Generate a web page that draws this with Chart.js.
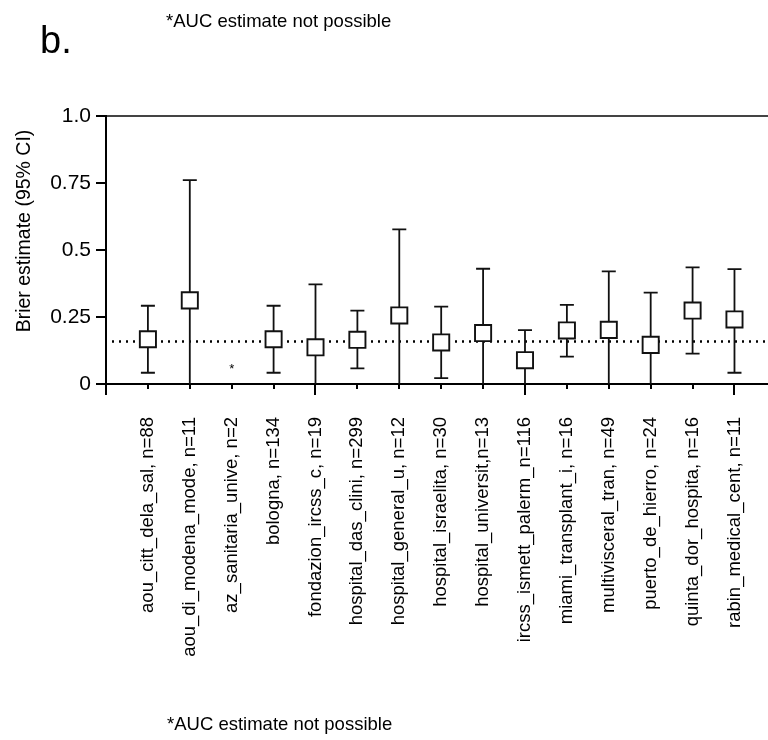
<!DOCTYPE html>
<html>
<head>
<meta charset="utf-8">
<script src="https://cdn.jsdelivr.net/npm/chart.js@4/dist/chart.umd.min.js"></script>
<style>
  html, body { margin: 0; padding: 0; background: #fff; overflow: hidden; }
  #wrap { position: relative; width: 768px; height: 740px; }
</style>
</head>
<body>
<div id="wrap"><canvas id="c" width="768" height="740"></canvas></div>
<script>
// Centres (with n) along the x axis
const centres = [
  'aou_citt_dela_sal, n=88',
  'aou_di_modena_mode, n=11',
  'az_sanitaria_unive, n=2',
  'bologna, n=134',
  'fondazion_ircss_c, n=19',
  'hospital_das_clini, n=299',
  'hospital_general_u, n=12',
  'hospital_israelita, n=30',
  'hospital_universit,n=13',
  'ircss_ismett_palerm_n=116',
  'miami_transplant_i, n=16',
  'multivisceral_tran, n=49',
  'puerto_de_hierro, n=24',
  'quinta_dor_hospita, n=16',
  'rabin_medical_cent, n=11'
];
// Brier estimate and 95% CI per centre (null = not estimable)
const brier   = [0.167, 0.312, null, 0.167, 0.137, 0.165, 0.256, 0.155, 0.190, 0.089, 0.200, 0.202, 0.146, 0.274, 0.241];
const ciLower = [0.042, 0.000, null, 0.042, 0.000, 0.058, 0.000, 0.022, 0.000, 0.000, 0.102, 0.000, 0.000, 0.113, 0.042];
const ciUpper = [0.292, 0.761, null, 0.292, 0.372, 0.274, 0.577, 0.289, 0.430, 0.201, 0.295, 0.420, 0.341, 0.435, 0.429];
// Pooled Brier estimate (dotted reference line)
const pooledBrier = 0.162;
// y-axis tick values and labels
const yTickValues = [0, 0.25, 0.5, 0.75, 1.0];
const yTickLabels = ['0', '0.25', '0.5', '0.75', '1.0'];

const FONT = '"Liberation Sans", Arial, Helvetica, sans-serif';

const points = [];
centres.forEach((c, i) => {
  if (brier[i] !== null) points.push({ x: i + 1, y: brier[i], lo: ciLower[i], hi: ciUpper[i] });
});

// Error bars, pooled line, custom x ticks, panel letter and notes
const decorations = {
  id: 'decorations',
  beforeDatasetsDraw(chart) {
    const { ctx, chartArea, scales: { x, y } } = chart;
    ctx.save();
    // pooled estimate dotted line
    const yp = Math.round(y.getPixelForValue(pooledBrier)) + 0.5;
    ctx.strokeStyle = '#000';
    ctx.lineWidth = 2.4;
    ctx.setLineDash([2, 5]);
    ctx.beginPath();
    ctx.moveTo(chartArea.left + 6, yp);
    ctx.lineTo(chartArea.right, yp);
    ctx.stroke();
    ctx.setLineDash([]);
    // confidence intervals
    ctx.lineWidth = 1.8;
    ctx.strokeStyle = '#111';
    const cap = 7;
    points.forEach(p => {
      const px = x.getPixelForValue(p.x);
      const pLo = y.getPixelForValue(p.lo);
      const pHi = y.getPixelForValue(p.hi);
      ctx.beginPath();
      ctx.moveTo(px, pLo); ctx.lineTo(px, pHi);
      ctx.moveTo(px - cap, pHi); ctx.lineTo(px + cap, pHi);
      if (p.lo > 0) { ctx.moveTo(px - cap, pLo); ctx.lineTo(px + cap, pLo); }
      ctx.stroke();
    });
    // marker for centres without an estimate
    ctx.fillStyle = '#000';
    ctx.font = '13px ' + FONT;
    ctx.textAlign = 'center';
    ctx.textBaseline = 'alphabetic';
    centres.forEach((c, i) => {
      if (brier[i] === null) {
        ctx.fillText('*', x.getPixelForValue(i + 1), y.getPixelForValue(0) - 11);
      }
    });
    ctx.restore();
  },
  afterDraw(chart) {
    const { ctx, scales: { x, y } } = chart;
    ctx.save();
    // x-axis tick marks, longer every fifth position
    const y0 = y.getPixelForValue(0);
    ctx.strokeStyle = '#000';
    ctx.lineWidth = 2;
    ctx.beginPath();
    for (let v = 0; v <= centres.length; v++) {
      const px = Math.round(x.getPixelForValue(v));
      const len = v % 5 === 0 ? 11 : 5;
      ctx.moveTo(px, y0); ctx.lineTo(px, y0 + len);
    }
    ctx.stroke();
    // y-axis title
    ctx.fillStyle = '#000';
    ctx.font = '19.5px ' + FONT;
    ctx.textAlign = 'center';
    ctx.textBaseline = 'alphabetic';
    ctx.translate(30, 231);
    ctx.rotate(-Math.PI / 2);
    ctx.fillText('Brier estimate (95% CI)', 0, 0);
    ctx.restore();

    ctx.save();
    ctx.fillStyle = '#000';
    ctx.textAlign = 'left';
    ctx.textBaseline = 'alphabetic';
    ctx.font = '38px ' + FONT;
    ctx.fillText('b.', 40, 53);
    ctx.font = '18.5px ' + FONT;
    ctx.fillText('*AUC estimate not possible', 166, 27);
    ctx.fillText('*AUC estimate not possible', 167, 730);
    ctx.restore();
  }
};

new Chart(document.getElementById('c'), {
  type: 'scatter',
  data: {
    datasets: [{
      data: points,
      pointStyle: 'rect',
      pointRadius: 11.4,
      pointHoverRadius: 11.4,
      pointBackgroundColor: '#fff',
      pointBorderColor: '#111',
      pointBorderWidth: 1.9
    }]
  },
  options: {
    responsive: false,
    animation: false,
    events: [],
    layout: { autoPadding: false, padding: { top: 116, left: 0, right: 0, bottom: 0 } },
    plugins: { legend: { display: false }, tooltip: { enabled: false } },
    scales: {
      x: {
        type: 'linear',
        min: 0,
        max: 15.8,
        afterBuildTicks: s => { s.ticks = centres.map((c, i) => ({ value: i + 1 })); },
        afterFit: s => { s.height = 356; s.paddingLeft = 0; s.paddingRight = 0; },
        grid: { display: false },
        border: { display: true, color: '#000', width: 2 },
        ticks: {
          autoSkip: false,
          maxRotation: 90,
          minRotation: 90,
          padding: 25,
          color: '#000',
          font: { family: FONT, size: 18.5 },
          callback: v => centres[v - 1] ?? ''
        }
      },
      y: {
        min: 0,
        max: 1,
        afterBuildTicks: s => { s.ticks = yTickValues.map(v => ({ value: v })); },
        afterFit: s => { s.width = 106; },
        grid: {
          display: true,
          drawOnChartArea: true,
          drawTicks: true,
          tickLength: 10,
          tickColor: '#000',
          tickWidth: 2,
          lineWidth: 2,
          color: ctx => (ctx.tick && ctx.tick.value === 1 ? '#444' : 'rgba(0,0,0,0)')
        },
        border: { display: true, color: '#000', width: 2 },
        ticks: {
          padding: 5,
          color: '#000',
          font: { family: FONT, size: 21 },
          callback: (v) => {
            const k = yTickValues.indexOf(v);
            return k >= 0 ? yTickLabels[k] : '';
          }
        }
      }
    }
  },
  plugins: [decorations]
});
</script>
</body>
</html>
